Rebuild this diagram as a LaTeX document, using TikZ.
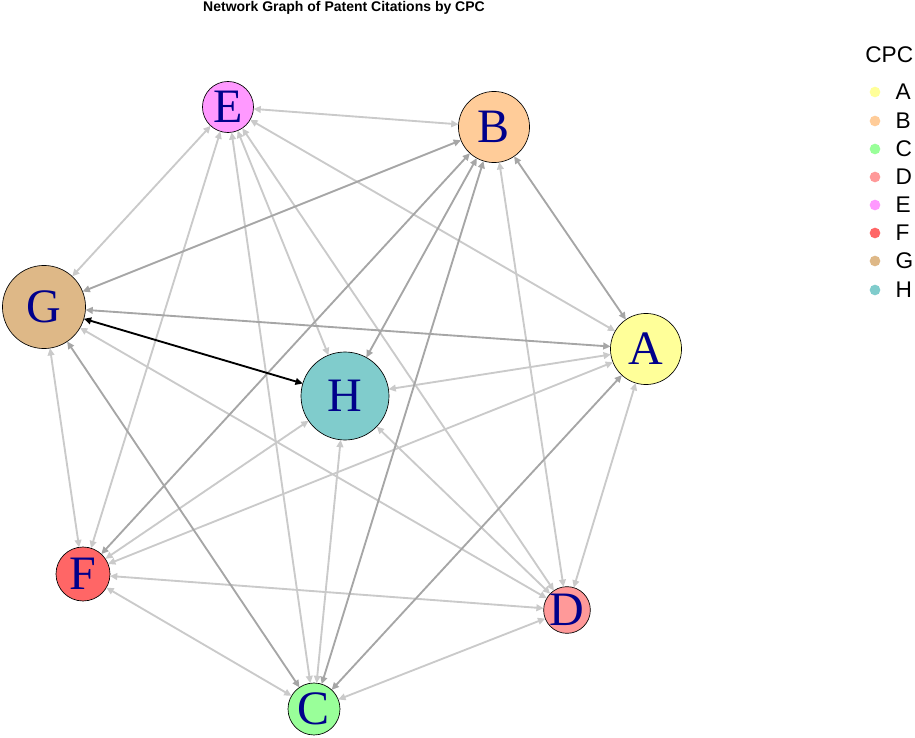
\documentclass[tikz,border=0pt]{standalone}
\usepackage{fontspec}
\setmainfont{Liberation Serif}
\setsansfont{Liberation Sans}
\usepackage{tikz}
\usepackage{xcolor}
\usetikzlibrary{
    arrows.meta,
    positioning
}

\definecolor{cpcA}{HTML}{FFFF99}
\definecolor{cpcB}{HTML}{FFCC99}
\definecolor{cpcC}{HTML}{99FF99}
\definecolor{cpcD}{HTML}{FF9999}
\definecolor{cpcE}{HTML}{FF99FF}
\definecolor{cpcF}{HTML}{FF6666}
\definecolor{cpcG}{HTML}{DEB887}
\definecolor{cpcH}{HTML}{80CCCC}
\definecolor{lettercol}{HTML}{00008B}
\definecolor{lightedge}{HTML}{CACACA}
\definecolor{darkedge}{HTML}{A6A6A6}

\tikzset{
    vertex/.style={circle, draw=black, line width=0.5pt, inner sep=0pt, outer sep=0pt,
        font=\fontsize{36}{36}\selectfont, text=lettercol},
    link/.style={{Triangle[length=5.5pt,width=5pt]}-{Triangle[length=5.5pt,width=5pt]},
        line width=1.4pt, lightedge},
    heavylink/.style={link, darkedge},
    keydot/.style={circle, inner sep=0pt, minimum size=8pt},
    keytext/.style={inner sep=0pt, anchor=west, font=\sffamily\fontsize{17}{17}\selectfont}
}

\begin{document}
\begin{tikzpicture}[x=0.75pt, y=-0.75pt]
                        \useasboundingbox (0, 0) rectangle (915, 738);
                        \node[font=\sffamily\bfseries\fontsize{10.5}{12}\selectfont] (title) at (344, 8) {Network Graph of Patent Citations by CPC};
                        % vertices
                        \node[vertex, fill=cpcE, minimum size=38.3pt] (E) at (228, 107) {E};
                        \node[vertex, fill=cpcB, minimum size=53.3pt] (B) at (494, 127) {B};
                        \node[vertex, fill=cpcG, minimum size=62.3pt] (G) at (44, 307) {G};
                        \node[vertex, fill=cpcA, minimum size=53.3pt] (A) at (646, 349) {A};
                        \node[vertex, fill=cpcH, minimum size=66pt] (H) at (345, 396) {H};
                        \node[vertex, fill=cpcF, minimum size=40.5pt] (F) at (83, 574) {F};
                        \node[vertex, fill=cpcD, minimum size=31.5pt] (D) at (567, 610) {D};
                        \node[vertex, fill=cpcC, minimum size=39pt] (C) at (314, 709) {C};
                        % citations
                        \draw[link] (E) -- (B);
                        \draw[link] (E) -- (G);
                        \draw[link] (E) -- (F);
                        \draw[link] (E) -- (C);
                        \draw[link] (E) -- (H);
                        \draw[link] (E) -- (D);
                        \draw[link] (E) -- (A);
                        \draw[link] (B) -- (D);
                        \draw[link] (G) -- (F);
                        \draw[link] (G) -- (D);
                        \draw[link] (A) -- (H);
                        \draw[link] (A) -- (F);
                        \draw[link] (A) -- (D);
                        \draw[link] (H) -- (F);
                        \draw[link] (H) -- (C);
                        \draw[link] (H) -- (D);
                        \draw[link] (F) -- (D);
                        \draw[link] (F) -- (C);
                        \draw[link] (D) -- (C);
                        \draw[heavylink] (B) -- (G);
                        \draw[heavylink] (B) -- (A);
                        \draw[heavylink] (B) -- (H);
                        \draw[heavylink] (B) -- (F);
                        \draw[heavylink] (B) -- (C);
                        \draw[heavylink] (G) -- (A);
                        \draw[heavylink] (G) -- (C);
                        \draw[heavylink] (A) -- (C);
                        \draw[link, black] (G) -- (H);
                        % legend
                        \node[keytext] (keytitle) at (865, 55) {CPC};
                        \node[keydot, fill=cpcA] (kA) at (875, 92) {};
                        \node[keydot, fill=cpcB] (kB) at (875, 121) {};
                        \node[keydot, fill=cpcC] (kC) at (875, 149) {};
                        \node[keydot, fill=cpcD] (kD) at (875, 177) {};
                        \node[keydot, fill=cpcE] (kE) at (875, 205) {};
                        \node[keydot, fill=cpcF] (kF) at (875, 233) {};
                        \node[keydot, fill=cpcG] (kG) at (875, 261) {};
                        \node[keydot, fill=cpcH] (kH) at (875, 290) {};
                        \node[keytext, right=11pt of kA] (lA) {A};
                        \node[keytext, right=11pt of kB] (lB) {B};
                        \node[keytext, right=11pt of kC] (lC) {C};
                        \node[keytext, right=11pt of kD] (lD) {D};
                        \node[keytext, right=11pt of kE] (lE) {E};
                        \node[keytext, right=11pt of kF] (lF) {F};
                        \node[keytext, right=11pt of kG] (lG) {G};
                        \node[keytext, right=11pt of kH] (lH) {H};
                    \end{tikzpicture}
\end{document}
